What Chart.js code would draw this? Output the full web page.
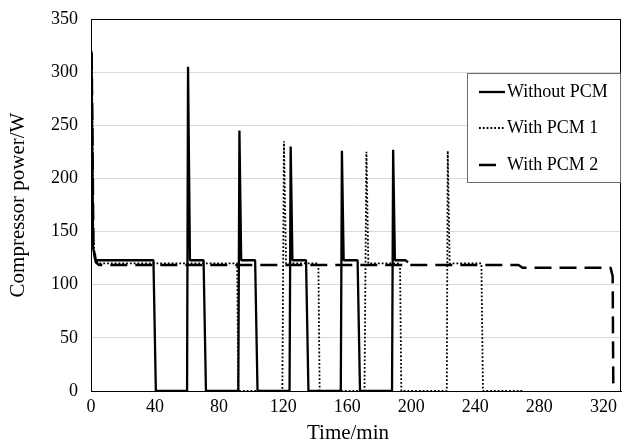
<!DOCTYPE html>
<html><head><meta charset="utf-8">
<script src="https://cdn.jsdelivr.net/npm/chart.js@4.4.0/dist/chart.umd.min.js"></script>
<style>html,body{margin:0;padding:0;background:#fff;}canvas{display:block}</style>
</head><body>
<canvas id="c" width="622" height="441"></canvas>
<script>
// ---- data ----
const seriesLabels = ['Without PCM', 'With PCM 1', 'With PCM 2'];
const xTickValues = [0, 40, 80, 120, 160, 200, 240, 280, 320];
const yTickValues = [0, 50, 100, 150, 200, 250, 300, 350];
const xTitle = 'Time/min';
const yTitle = 'Compressor power/W';

const tWithout = [0.3, 1.3, 2.5, 4, 39, 40.5, 60, 60.6, 61.8, 70.3, 71.8, 92, 92.7, 93.8, 102.5, 104, 124, 124.7, 125.8, 134.3, 135.8, 156, 156.7, 157.8, 166.5, 168, 188, 188.7, 189.8, 196.5, 198];
const pWithout = [320, 135, 124, 123, 123, 0, 0, 305, 123, 123, 0, 0, 245, 123, 123, 0, 0, 230, 123, 123, 0, 0, 226, 123, 123, 0, 0, 227, 123, 123, 121];

const tPcm1 = [0.5, 1.5, 3, 5, 91.3, 92, 119.5, 120.5, 121.8, 142, 142.8, 170.8, 172, 173.2, 193, 193.8, 222.2, 222.8, 224, 243.8, 244.8, 270];
const pPcm1 = [318, 140, 122, 120, 120, 0, 0, 235, 120, 120, 0, 0, 225, 120, 120, 0, 0, 226, 120, 120, 0, 0];

const tPcm2 = [0.4, 1.5, 3, 5, 267, 269.5, 324.5, 325.8, 326.2];
const pPcm2 = [318, 140, 121, 118.5, 118.5, 116, 116, 108, 0];

// ---- build ----
const pts = (t, p) => t.map((x, i) => ({x: x, y: p[i]}));
const FONT = "'Liberation Serif', 'Times New Roman', serif";

const legendPlugin = {
  id: 'boxLegend',
  afterDraw(chart) {
    const ctx = chart.ctx;
    const ca = chart.chartArea;
    ctx.save();
    ctx.strokeStyle = '#000';
    ctx.lineWidth = 1;
    ctx.setLineDash([]);
    ctx.strokeRect(ca.left + 0.5, ca.top + 0.5, ca.right - ca.left - 1, ca.bottom - ca.top);
    // x axis title (slightly left of the plot centre, as in the original)
    ctx.font = '21px ' + FONT;
    ctx.fillStyle = '#000';
    ctx.textAlign = 'center';
    ctx.textBaseline = 'alphabetic';
    ctx.fillText(xTitle, 348, 439);
    // legend box
    const bx = 467, by = 73, bw = 154, bh = 110;
    ctx.fillStyle = '#fff';
    ctx.fillRect(bx, by, bw, bh);
    ctx.strokeStyle = '#6e6e6e';
    ctx.strokeRect(bx + 0.5, by + 0.5, bw - 1, bh - 1);
    const rows = [92, 128, 165];
    const sampleLen = [26, 26, 18];
    ctx.font = '18px ' + FONT;
    ctx.textAlign = 'left';
    ctx.textBaseline = 'middle';
    ctx.fillStyle = '#000';
    chart.data.datasets.forEach((ds, i) => {
      const y = rows[i];
      ctx.beginPath();
      ctx.setLineDash(ds.borderDash || []);
      ctx.lineWidth = ds.borderWidth;
      ctx.strokeStyle = ds.borderColor;
      ctx.moveTo(479, y);
      ctx.lineTo(479 + sampleLen[i], y);
      ctx.stroke();
      ctx.setLineDash([]);
      ctx.fillText(ds.label, 507, y);
    });
    ctx.restore();
  }
};

new Chart(document.getElementById('c'), {
  type: 'line',
  data: {
    datasets: [
      {label: seriesLabels[0], data: pts(tWithout, pWithout), borderColor: '#000', borderWidth: 2.3, borderDash: [], pointRadius: 0, tension: 0, borderJoinStyle: 'bevel'},
      {label: seriesLabels[1], data: pts(tPcm1, pPcm1), borderColor: '#000', borderWidth: 1.8, borderDash: [1.8, 2], pointRadius: 0, tension: 0, borderJoinStyle: 'bevel'},
      {label: seriesLabels[2], data: pts(tPcm2, pPcm2), borderColor: '#000', borderWidth: 2.5, borderDash: [17, 8], pointRadius: 0, tension: 0, borderJoinStyle: 'bevel'}
    ]
  },
  options: {
    responsive: false,
    animation: false,
    layout: {padding: {left: 0, top: 19, right: 1, bottom: 0}},
    plugins: {legend: {display: false}, tooltip: {enabled: false}},
    scales: {
      x: {
        type: 'linear', min: 0, max: 331,
        afterBuildTicks: s => { s.ticks = xTickValues.map(v => ({value: v})); },
        afterFit: s => { s.height = 50; s.paddingLeft = 0; s.paddingRight = 0; },
        grid: {display: false, drawTicks: false},
        border: {display: true, color: '#000', width: 1},
        ticks: {padding: 5, color: '#000', font: {family: FONT, size: 18}, maxRotation: 0},
        title: {display: false, text: xTitle}
      },
      y: {
        type: 'linear', min: 0, max: 350,
        afterBuildTicks: s => { s.ticks = yTickValues.map(v => ({value: v})); },
        afterFit: s => { s.width = 91; s.paddingTop = 0; s.paddingBottom = 0; },
        grid: {color: '#d9d9d9', lineWidth: 1, drawTicks: false},
        border: {display: true, color: '#000', width: 1},
        ticks: {padding: 13, color: '#000', font: {family: FONT, size: 18}},
        title: {display: true, text: yTitle, color: '#000', font: {family: FONT, size: 21}, padding: {top: 6, bottom: 0}}
      }
    }
  },
  plugins: [legendPlugin]
});
</script>
</body></html>
